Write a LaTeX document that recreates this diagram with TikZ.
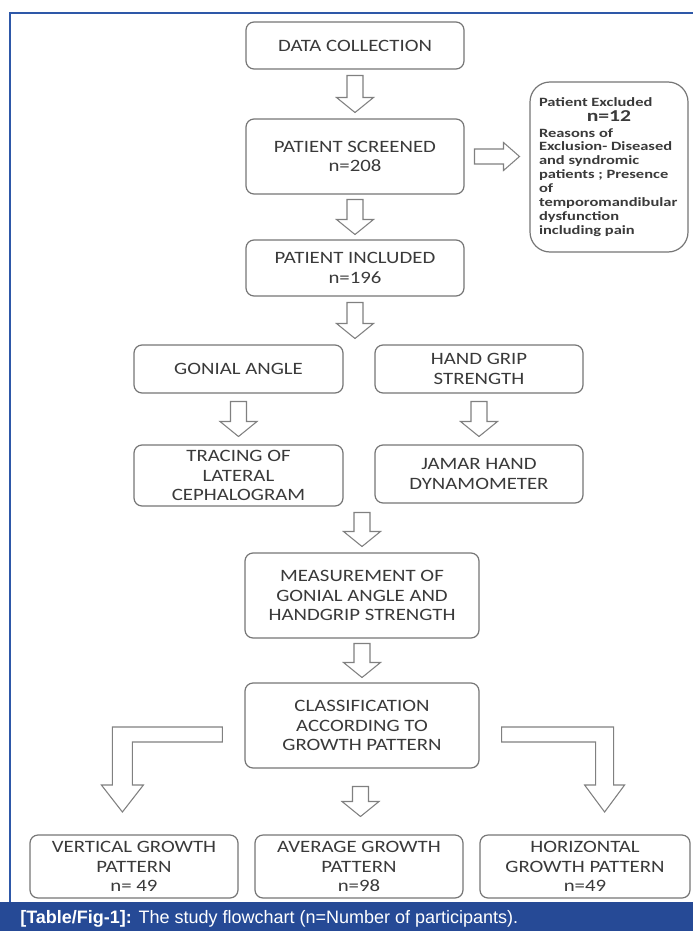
\documentclass[tikz,border=0pt]{standalone}
\usepackage{fontspec}
\usepackage{tikz}
\usetikzlibrary{calc}
\setmainfont{Liberation Sans}
\newfontfamily\boxfont[FakeStretch=1.2]{Carlito}
\newfontfamily\exclfont[FakeStretch=1.3]{Carlito}
\definecolor{boxgray}{RGB}{118,118,118}
\definecolor{textgray}{RGB}{58,58,58}
\definecolor{arrowgray}{RGB}{128,128,128}
\definecolor{frameblue}{RGB}{46,88,168}
\definecolor{capblue}{RGB}{38,74,150}

% hollow block arrows, centre point and length in px
\newcommand{\blockdown}[2]{%
  \draw[blockarrow] (#1) ++(-8,-#2/2) -- ++(16,0) -- ++(0,#2-15) -- ++(10.5,0)
    -- ++(-18.5,15) -- ++(-18.5,-15) -- ++(10.5,0) -- cycle;}
\newcommand{\blockright}[2]{%
  \draw[blockarrow] (#1) ++(-#2/2,-7.5) -- ++(#2-16,0) -- ++(0,-6.5)
    -- ++(16,14) -- ++(-16,14) -- ++(0,-6.5) -- ++(-#2+16,0) -- cycle;}

\begin{document}
\begin{tikzpicture}[x=0.75pt, y=-0.75pt,
  stage/.style={draw=boxgray, line width=0.9pt, rounded corners=6pt, fill=white,
    align=center, inner sep=0pt, text=textgray,
    font=\fontsize{13}{14.5}\boxfont},
  blockarrow/.style={draw=arrowgray, line width=0.8pt, fill=white, line join=miter}]
  \useasboundingbox (0,0) rectangle (693,931);

  % frame and caption
  \draw[frameblue, line width=1.5pt] (10,903) -- (10,13) -- (693,13);
  \fill[capblue] (0,902) rectangle (693,931);
  \node[anchor=base west, text=white, inner sep=0pt, font=\fontsize{13.5}{15}\selectfont]
    (caption) at (20,923) {\textbf{[Table/Fig-1]:} The study flowchart (n=Number of participants).};

  % main column
  \node[stage, minimum width=163.5pt, minimum height=35.25pt] (data) at (355,45.5) {DATA COLLECTION};
  \node[stage, minimum width=163.5pt, minimum height=56.25pt] (screened) at (355,156.5) {PATIENT SCREENED\\n=208};
  \node[stage, minimum width=163.5pt, minimum height=42pt] (included) at (355,268) {PATIENT INCLUDED\\n=196};
  \node[stage, rounded corners=15pt, minimum width=118.5pt, minimum height=127.5pt, align=left,
    font=\fontsize{9.5}{10.4}\exclfont\bfseries] (excluded) at (609,167)
    {Patient Excluded\\[1pt]
     \makebox[105pt]{\fontsize{12.5}{13}\exclfont n=12}\\[1pt]
     Reasons of\\ Exclusion- Diseased\\ and syndromic\\ patients ; Presence\\ of\\
     temporomandibular\\ dysfunction\\ including pain};

  % two branches
  \node[stage, minimum width=156.75pt, minimum height=36pt] (gonial) at (238.5,369) {GONIAL ANGLE};
  \node[stage, minimum width=156pt, minimum height=36pt] (grip) at (479,369) {HAND GRIP\\STRENGTH};
  \node[stage, minimum width=156.75pt, minimum height=45.75pt] (tracing) at (238.5,475.5) {TRACING OF\\LATERAL\\CEPHALOGRAM};
  \node[stage, minimum width=156pt, minimum height=43.5pt] (jamar) at (479,474) {JAMAR HAND\\DYNAMOMETER};

  \node[stage, minimum width=175.5pt, minimum height=63.75pt] (measure) at (362,595.5) {MEASUREMENT OF\\GONIAL ANGLE AND\\HANDGRIP STRENGTH};
  \node[stage, minimum width=175.5pt, minimum height=63.75pt] (classify) at (362,725.5) {CLASSIFICATION\\ACCORDING TO\\GROWTH PATTERN};

  % growth patterns
  \node[stage, minimum width=156pt, minimum height=47.25pt] (vertical) at (134,866.5) {VERTICAL GROWTH\\PATTERN\\n= 49};
  \node[stage, minimum width=156pt, minimum height=47.25pt] (average) at (359,866.5) {AVERAGE GROWTH\\PATTERN\\n=98};
  \node[stage, minimum width=157.5pt, minimum height=47.25pt] (horizontal) at (585,866.5) {HORIZONTAL\\GROWTH PATTERN\\n=49};

  % arrows
  \blockdown{$(data.south)!0.5!(screened.north)$}{37}
  \blockright{$(screened.east)!0.5!(screened.east -| excluded.west)$}{45}
  \blockdown{$(screened.south)!0.5!(included.north)$}{35}
  \blockdown{$(included.south)!0.5!(included.south |- gonial.north)$}{36}
  \blockdown{$(gonial.south)!0.5!(tracing.north)$}{35}
  \blockdown{$(grip.south)!0.5!(jamar.north)$}{35}
  \blockdown{$(measure.north)!0.5!(measure.north |- tracing.south)$}{34}
  \blockdown{$(measure.south)!0.5!(classify.north)$}{34}
  \blockdown{$(classify.south)!0.5!(average.north)$}{30}

  % bent arrows to the sides
  \coordinate (lbend) at ($(classify.west)+(-22,1.5)$);
  \coordinate (rbend) at ($(classify.east)+(22,1.5)$);
  \draw[blockarrow] (lbend) -- ++(-110,0) -- ++(0,58) -- ++(-11,0) -- ++(21,27)
    -- ++(21,-27) -- ++(-11,0) -- ++(0,-43) -- ++(90,0) -- cycle;
  \draw[blockarrow] (rbend) -- ++(112,0) -- ++(0,58) -- ++(11,0) -- ++(-20,27)
    -- ++(-20,-27) -- ++(11,0) -- ++(0,-43) -- ++(-94,0) -- cycle;
\end{tikzpicture}
\end{document}
